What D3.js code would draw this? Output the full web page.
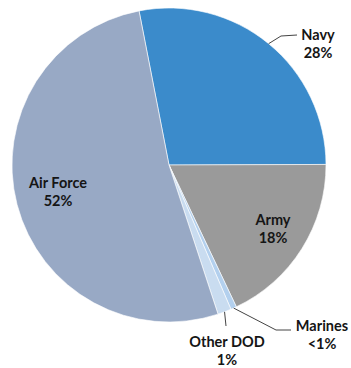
<!DOCTYPE html>
<html lang="en">
<head>
<meta charset="utf-8">
<title>DOD share</title>
<script src="https://d3js.org/d3.v7.min.js"></script>
<style>
  body { margin: 0; background: #fff; }
  text { font-family: Lato, "Open Sans", sans-serif; font-weight: bold; font-size: 14.5px; fill: #151515; }
</style>
</head>
<body>
<div id="chart"></div>
<script>
// slices, clockwise from the top
var names = ["Navy", "Army", "Marines", "Other DOD", "Air Force"];
var shares = [28, 18, 0.6, 1.4, 52];
var pctLabels = ["28%", "18%", "<1%", "1%", "52%"];
var colors = ["#3b8bcb", "#9a9a9a", "#b3d0ee", "#c9dcf0", "#98a9c5"];

var w = 351, h = 368;
var cx = 169, cy = 165, r = 157;
var start = -11 * Math.PI / 180;

var svg = d3.select("#chart").append("svg").attr("width", w).attr("height", h);
var g = svg.append("g").attr("transform", "translate(" + cx + "," + cy + ")");

var pie = d3.pie().sort(null).startAngle(start).endAngle(start + 2 * Math.PI);
var arc = d3.arc().innerRadius(0).outerRadius(r);
var arcs = pie(shares);

g.selectAll("path").data(arcs).enter().append("path")
  .attr("d", arc)
  .attr("fill", function(d, i) { return colors[i]; })
  .attr("stroke", "#fff")
  .attr("stroke-width", 0.6);

// point on the rim in the middle of a slice
function rim(d) {
  var a = (d.startAngle + d.endAngle) / 2;
  return [cx + r * Math.sin(a), cy - r * Math.cos(a)];
}

// label layout: [x, y of first line, leader path after rim point]
var layout = [
  { x: 318, y: 40, leader: [[281, 36], [297, 35]] },
  { x: 273, y: 225, leader: null },
  { x: 322, y: 331, leader: [[276, 330], [291, 330]] },
  { x: 227, y: 347, leader: [[226, 326]] },
  { x: 58, y: 188, leader: null }
];

var line = d3.line();
arcs.forEach(function(d, i) {
  var L = layout[i];
  if (L.leader) {
    svg.append("path")
      .attr("d", line([rim(d)].concat(L.leader)))
      .attr("fill", "none")
      .attr("stroke", "#444")
      .attr("stroke-width", 1);
  }
  var t = svg.append("text").attr("text-anchor", "middle");
  t.append("tspan").attr("x", L.x).attr("y", L.y).text(names[i]);
  t.append("tspan").attr("x", L.x).attr("y", L.y + 18).text(pctLabels[i]);
});
</script>
</body>
</html>
